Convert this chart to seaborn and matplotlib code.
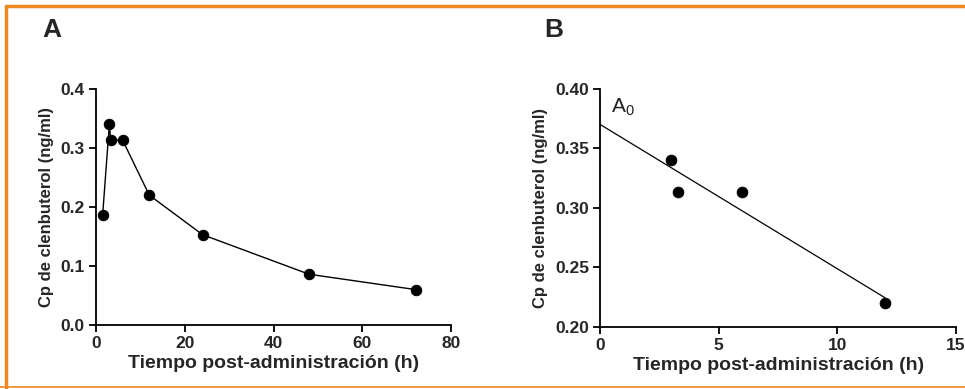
import numpy as np
import pandas as pd
import matplotlib
matplotlib.use("Agg")
import matplotlib.pyplot as plt
import seaborn as sns
from matplotlib.lines import Line2D

sns.set_theme(style="ticks")
plt.rcParams['font.family'] = ['Liberation Sans', 'DejaVu Sans']

# Panel A data
time_a = [1.5, 3, 3.3, 6, 12, 24, 48, 72]
conc_a = [0.187, 0.340, 0.313, 0.313, 0.220, 0.153, 0.086, 0.060]
# Panel B data (absorption phase points)
time_b = [3, 3.3, 6, 12]
conc_b = [0.340, 0.313, 0.313, 0.220]

xlabel = "Tiempo post-administración (h)"
ylabel = "Cp de clenbuterol (ng/ml)"
orange = "#EF8A22"

fig = plt.figure(figsize=(9.65, 3.89), dpi=100)
axA = fig.add_axes([0.0995, 0.1645, 0.368, 0.607])
axB = fig.add_axes([0.6218, 0.1594, 0.369, 0.612])

dfA = pd.DataFrame({"t": time_a, "c": conc_a})
sns.lineplot(data=dfA, x="t", y="c", ax=axA, color="black", lw=1.0,
             marker="o", markersize=7.5, markeredgecolor="black", sort=False,
             estimator=None)
axA.set_xlim(0, 80)
axA.set_ylim(0, 0.4)
axA.set_xticks([0, 20, 40, 60, 80])
axA.set_yticks([0.0, 0.1, 0.2, 0.3, 0.4])
axA.set_yticklabels(["0.0", "0.1", "0.2", "0.3", "0.4"])

dfB = pd.DataFrame({"t": time_b, "c": conc_b})
sns.scatterplot(data=dfB, x="t", y="c", ax=axB, color="black", s=60,
                edgecolor="black", zorder=3)
slope, intercept = np.polyfit(time_b, conc_b, 1)
xfit = np.array([0, max(time_b)])
sns.lineplot(x=xfit, y=intercept + slope * xfit, ax=axB, color="black", lw=0.9)
axB.set_xlim(0, 15)
axB.set_ylim(0.2, 0.4)
axB.set_xticks([0, 5, 10, 15])
axB.set_yticks([0.20, 0.25, 0.30, 0.35, 0.40])
axB.set_yticklabels(["0.20", "0.25", "0.30", "0.35", "0.40"])
axB.text(0.45, 0.385, r"A$_\mathregular{0}$", fontsize=15, color="#222222",
         va="center", ha="left")

for ax in (axA, axB):
    sns.despine(ax=ax)
    ax.spines["left"].set_linewidth(1.3)
    ax.spines["bottom"].set_linewidth(1.3)
    ax.spines["left"].set_color("black")
    ax.spines["bottom"].set_color("black")
    ax.tick_params(axis="both", direction="out", length=5, width=1.3,
                   color="black", labelsize=12.5, pad=3)
    for lab in ax.get_xticklabels() + ax.get_yticklabels():
        lab.set_fontweight("bold")
    ax.set_xlabel(xlabel, fontsize=14, fontweight="bold", labelpad=3)
    ax.set_ylabel(ylabel, fontsize=12, fontweight="bold", labelpad=5)

fig.text(0.054, 0.922, "A", fontsize=19, fontweight="bold", ha="center", va="center")
fig.text(0.574, 0.922, "B", fontsize=19, fontweight="bold", ha="center", va="center")

# orange frame (top, left, bottom)
fig.add_artist(Line2D([0.0062, 1.0], [0.9833, 0.9833], transform=fig.transFigure,
                      color=orange, lw=2.5))
fig.add_artist(Line2D([0.0065, 0.0065], [0.0, 0.9855], transform=fig.transFigure,
                      color=orange, lw=2.5))
fig.add_artist(Line2D([0.0, 1.0], [0.006, 0.006], transform=fig.transFigure,
                      color=orange, lw=1.2))

fig.savefig("out.png", dpi=100)
